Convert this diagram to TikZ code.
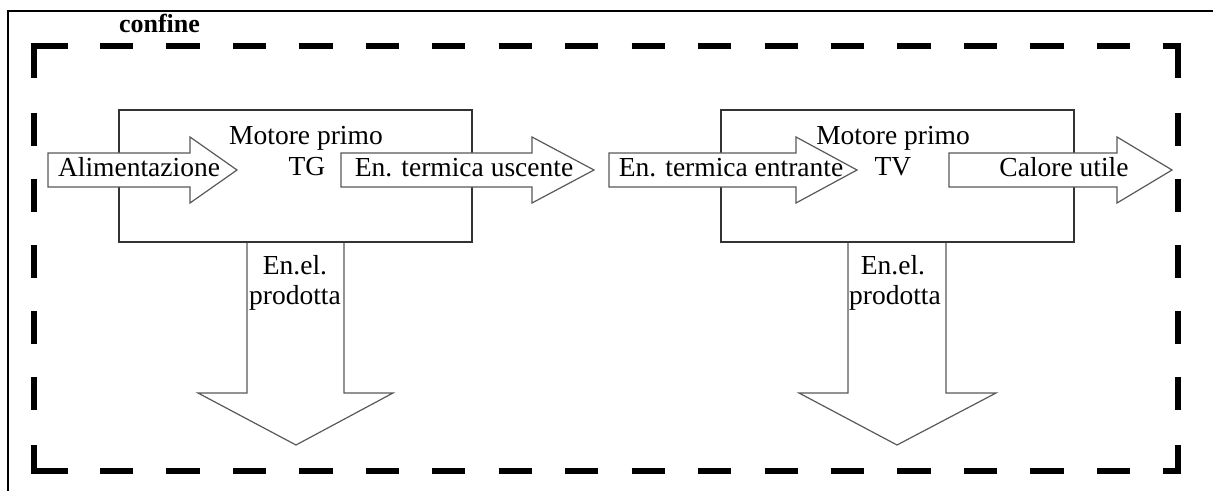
\documentclass[tikz,border=0pt]{standalone}
\usepackage{fontspec}
\setmainfont{Liberation Serif}
\begin{document}
\begin{tikzpicture}[x=0.5pt,y=-0.5pt,
  box/.style={draw=black!80, line width=0.75pt, fill=white, inner sep=0pt, minimum width=176.5pt, minimum height=66pt},
  barrow/.style={draw=black!65, line width=0.6pt, fill=white, line join=miter},
  lbl/.style={font=\fontsize{13.75}{16}\selectfont, inner sep=0pt, anchor=base},
  bound/.style={line width=3pt, line cap=butt, line join=miter},
  hdash/.style={bound, dash pattern=on 16.6pt off 16.625pt},
  vdash/.style={bound, dash pattern=on 16.5pt off 16.5pt},
]
\useasboundingbox (0,0) rectangle (1213,491);
\clip (0,0) rectangle (1213,491);
% outer frame
\draw[line width=1.35pt] (8,520) -- (8,11) -- (1240,11);
% dashed boundary
\draw[bound] (34,78) -- (34,46) -- (68,46);
\draw[bound] (1163,46) -- (1178,46) -- (1178,78);
\draw[bound] (34,445) -- (34,471) -- (68,471);
\draw[bound] (1178,445) -- (1178,471) -- (1163,471);
\draw[hdash] (100,46) -- (1130,46);
\draw[hdash] (100,471) -- (1130,471);
\draw[vdash] (34,113) -- (34,410);
\draw[vdash] (1178,113) -- (1178,410);
\node[font=\fontsize{13}{15}\selectfont\bfseries, inner sep=0pt, anchor=base] (confine) at (159.5,33) {confine};
% down arrows
\draw[barrow] (247,242) -- (344,242) -- (344,393) -- (393,393) -- (296,445) -- (198,393) -- (247,393) -- cycle;
\draw[barrow] (848,242) -- (946,242) -- (946,393) -- (996,393) -- (897,445) -- (799,393) -- (848,393) -- cycle;
% boxes
\node[box] (tg) at (295.5,176) {};
\node[box] (tv) at (897.5,176) {};
% right arrows
\newcommand{\blockR}[3]{\draw[barrow] (#1,153) -- (#2,153) -- (#2,137) -- (#3,170) -- (#2,203) -- (#2,187) -- (#1,187) -- cycle;}
\blockR{48}{190}{237}
\blockR{341}{532}{594}
\blockR{609}{796}{857}
\blockR{949}{1117}{1172}
% labels
\node[lbl] (mp1) at (306,145) {Motore primo};
\node[lbl] (tgl) at (307,176) {TG};
\node[lbl] (mp2) at (893,145) {Motore primo};
\node[lbl] (tvl) at (893,176) {TV};
\node[lbl] (alim) at (139,177) {Alimentazione};
\node[lbl] (usc) at (464,177) {En. termica uscente};
\node[lbl] (entr) at (731,177) {En. termica entrante};
\node[lbl] (cal) at (1064,177) {Calore utile};
\node[lbl] (el1) at (295,275) {En.el.};
\node[lbl] (pr1) at (295,305) {prodotta};
\node[lbl] (el2) at (893,275) {En.el.};
\node[lbl] (pr2) at (895,305) {prodotta};
\end{tikzpicture}
\end{document}
